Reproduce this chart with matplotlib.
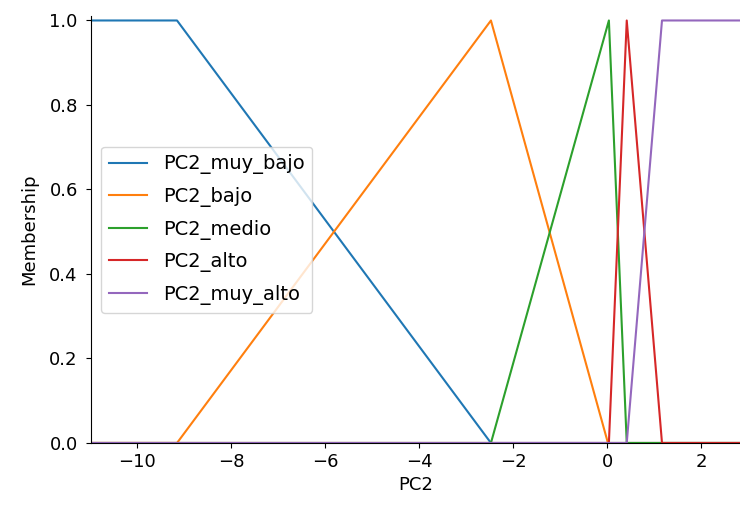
import matplotlib.pyplot as plt
import numpy as np

plt.rcParams['font.size'] = 13

x_min, x_max = -10.98, 2.83
names = ["PC2_muy_bajo", "PC2_bajo", "PC2_medio", "PC2_alto", "PC2_muy_alto"]
# breakpoints (x) and membership values
mf_x = [
    [x_min, -9.15, -2.47, x_max],
    [x_min, -9.15, -2.47, 0.02, x_max],
    [x_min, -2.47, 0.04, 0.42, x_max],
    [x_min, 0.04, 0.42, 1.17, x_max],
    [x_min, 0.42, 1.17, x_max],
]
mf_y = [
    [1.0, 1.0, 0.0, 0.0],
    [0.0, 0.0, 1.0, 0.0, 0.0],
    [0.0, 0.0, 1.0, 0.0, 0.0],
    [0.0, 0.0, 1.0, 0.0, 0.0],
    [0.0, 0.0, 1.0, 1.0],
]

fig = plt.figure(figsize=(7.4, 5.08), dpi=100)
ax = fig.add_axes([0.123, 0.128, 0.877, 0.84])

for xs, ys, name in zip(mf_x, mf_y, names):
    ax.plot(xs, ys, label=name, linewidth=1.5)

ax.set_xlim(x_min, x_max)
ax.set_ylim(0, 1.01)
ax.set_xlabel("PC2")
ax.set_ylabel("Membership", labelpad=8)
ax.tick_params(axis='y', pad=6)
ax.spines['top'].set_visible(False)
ax.spines['right'].set_visible(False)
ax.legend(loc='center left', fontsize=14, labelspacing=0.65)

fig.savefig("out.png")
